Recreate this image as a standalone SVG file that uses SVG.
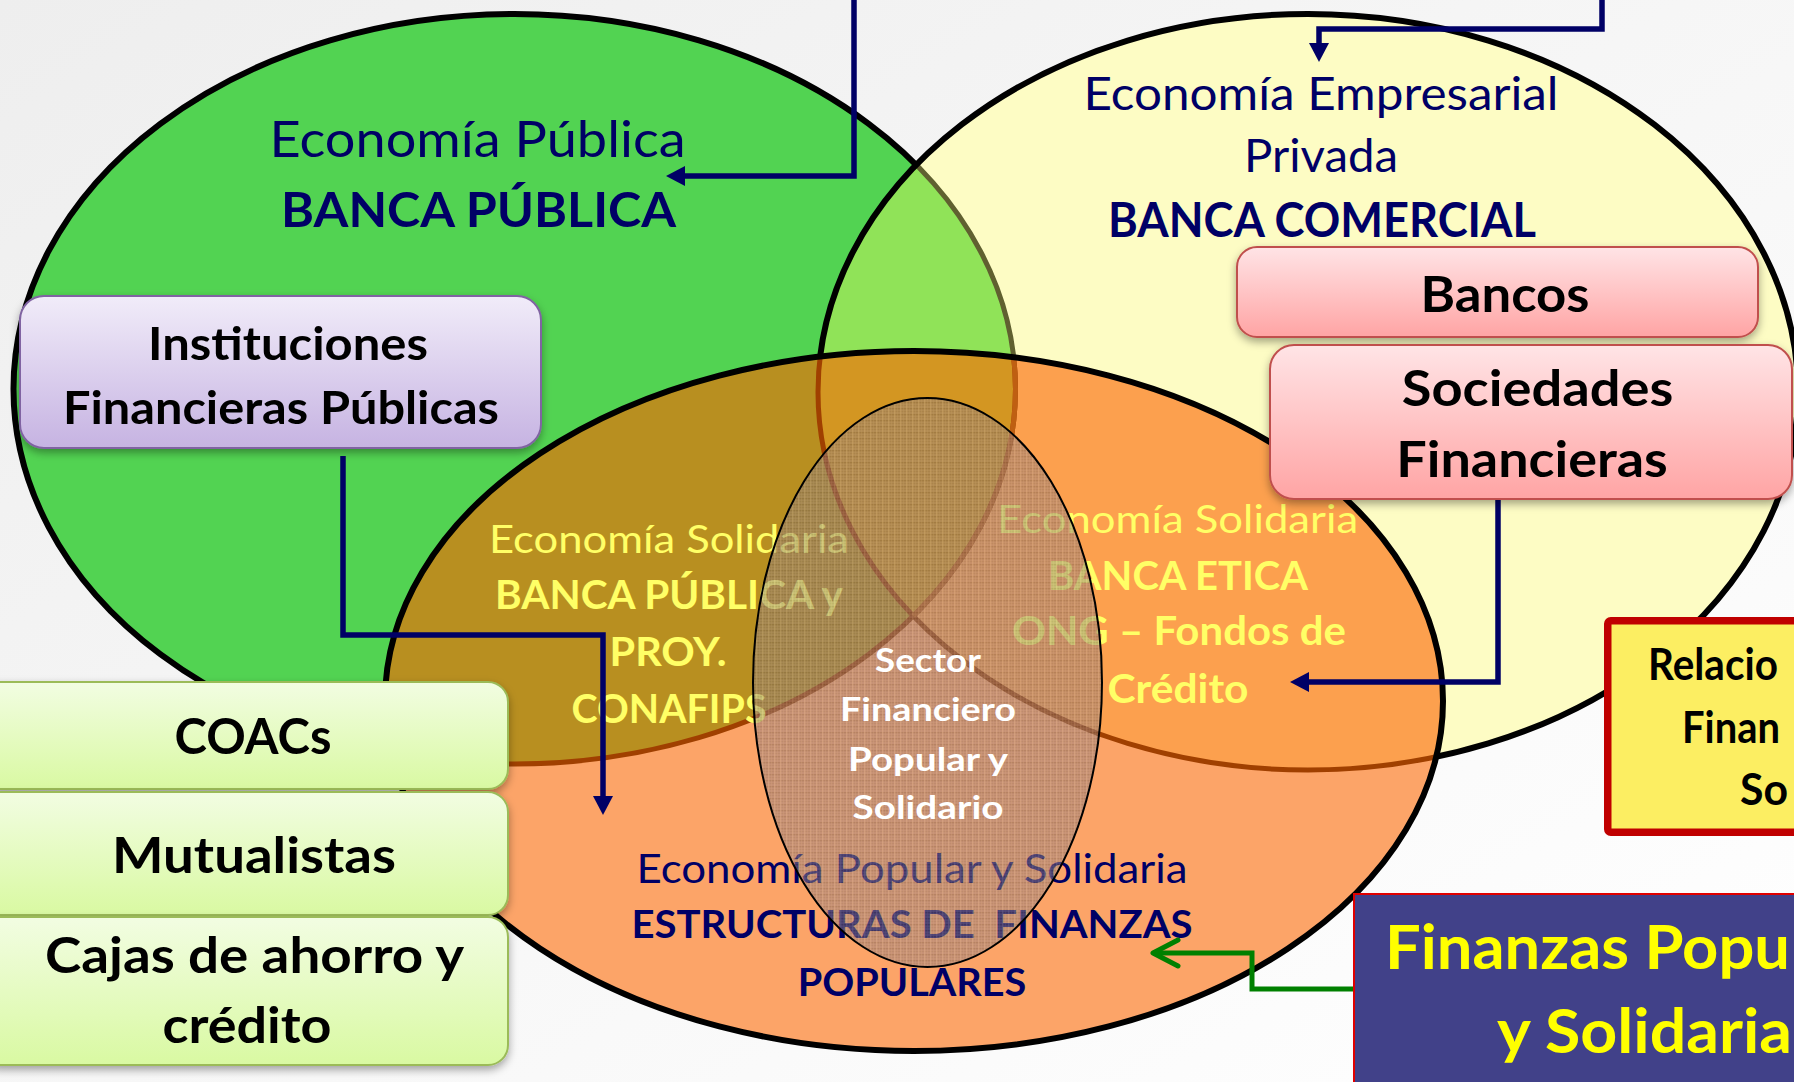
<svg xmlns="http://www.w3.org/2000/svg" width="1794" height="1082" viewBox="0 0 1794 1082">
<defs>
<style>
text{font-family:Lato,"Open Sans","Liberation Sans",sans-serif;text-anchor:middle}
.b{font-weight:700}
.navy{fill:#000066}
.yl{fill:#ffff66}
.blk{fill:#000}
.wh{fill:#fff}
.st{text-anchor:start}
.box{stroke-width:2}
.conn{fill:none;stroke:#000066;stroke-width:5.5;marker-end:url(#mNavy)}
</style>
<linearGradient id="bg" x1="0" y1="0" x2="1" y2="1"><stop offset="0" stop-color="#eeeeee"/><stop offset="1" stop-color="#ffffff"/></linearGradient>
<linearGradient id="gPurple" x1="0" y1="0" x2="0" y2="1"><stop offset="0" stop-color="#f1ecf9"/><stop offset="1" stop-color="#c6b3e2"/></linearGradient>
<linearGradient id="gPink" x1="0" y1="0" x2="0" y2="1"><stop offset="0" stop-color="#ffe4e6"/><stop offset="1" stop-color="#ffa4a4"/></linearGradient>
<linearGradient id="gLime" x1="0" y1="0" x2="0" y2="1"><stop offset="0" stop-color="#f2fde2"/><stop offset="1" stop-color="#d9f9a2"/></linearGradient>
<ellipse id="eG" cx="514.5" cy="389" rx="501" ry="375"/>
<ellipse id="eY" cx="1308" cy="392" rx="490" ry="378"/>
<ellipse id="eO" cx="914" cy="701" rx="529" ry="350"/>
<clipPath id="cG"><use href="#eG"/></clipPath>
<clipPath id="cY"><use href="#eY"/></clipPath>
<clipPath id="cO"><use href="#eO"/></clipPath>
<pattern id="canvas" width="6" height="6" patternUnits="userSpaceOnUse">
<rect width="6" height="6" fill="#948080"/>
<rect width="6" height="1.4" fill="#5a483e" opacity="0.5"/>
<rect y="3" width="6" height="1" fill="#6a5a50" opacity="0.3"/>
<rect width="1.4" height="6" fill="#c4b0a2" opacity="0.55"/>
<rect x="3" width="1" height="6" fill="#b09c8e" opacity="0.35"/>
</pattern>
<filter id="sh" x="-10%" y="-10%" width="120%" height="140%"><feDropShadow dx="0" dy="4" stdDeviation="4" flood-color="#000" flood-opacity="0.35"/></filter>
<marker id="mNavy" markerUnits="userSpaceOnUse" markerWidth="40" markerHeight="40" refX="0" refY="0" orient="auto" overflow="visible"><path d="M-11,-10 L8,0 L-11,10 Z" fill="#000066"/></marker>
<marker id="mGreen" markerUnits="userSpaceOnUse" markerWidth="40" markerHeight="40" refX="0" refY="0" orient="auto" overflow="visible"><path d="M-25,-13 L0,0 L-25,13" fill="none" stroke="#008000" stroke-width="5" stroke-linecap="round" stroke-linejoin="round"/></marker>
</defs>

<rect width="1794" height="1082" fill="url(#bg)"/>

<g id="venn">
<use href="#eG" fill="#52d352" stroke="#000" stroke-width="6"/>
<use href="#eY" fill="#fdfcc4"/>
<g clip-path="url(#cG)"><use href="#eY" fill="#90e358"/></g>
<g clip-path="url(#cY)"><use href="#eG" fill="none" stroke="#606030" stroke-width="5"/></g>
<use href="#eY" fill="none" stroke="#000" stroke-width="6"/>
<use href="#eO" fill="#fca468"/>
<g clip-path="url(#cO)"><use href="#eY" fill="#fca04e"/></g>
<g clip-path="url(#cO)"><use href="#eG" fill="#b88f20"/></g>
<g clip-path="url(#cO)"><g clip-path="url(#cY)"><use href="#eG" fill="#d39622"/></g></g>
<g clip-path="url(#cO)"><use href="#eG" fill="none" stroke="#a04000" stroke-width="5"/><use href="#eY" fill="none" stroke="#a04000" stroke-width="5"/></g>
<g clip-path="url(#cO)"><g clip-path="url(#cY)"><use href="#eG" fill="none" stroke="#bf5f12" stroke-width="5"/></g></g>
<use href="#eO" fill="none" stroke="#000" stroke-width="6"/>
</g>

<g id="economia-publica">
<text class="navy" x="477.6" y="156.7" font-size="50" textLength="416" lengthAdjust="spacingAndGlyphs">Economía Pública</text>
<text class="navy b" x="478.6" y="227" font-size="48" textLength="395" lengthAdjust="spacingAndGlyphs">BANCA PÚBLICA</text>
</g>

<g id="economia-empresarial">
<text class="navy" x="1321" y="110" font-size="45.6" textLength="475" lengthAdjust="spacingAndGlyphs">Economía Empresarial</text>
<text class="navy" x="1321" y="172" font-size="45.6" textLength="154" lengthAdjust="spacingAndGlyphs">Privada</text>
<text class="navy b" x="1322" y="237" font-size="47" textLength="428" lengthAdjust="spacingAndGlyphs">BANCA COMERCIAL</text>
</g>

<g id="solidaria-publica">
<text class="yl" x="669" y="552.6" font-size="38" textLength="360" lengthAdjust="spacingAndGlyphs">Economía Solidaria</text>
<text class="yl b" x="669" y="609" font-size="39.5" textLength="348" lengthAdjust="spacingAndGlyphs">BANCA PÚBLICA y</text>
<text class="yl b" x="668" y="666" font-size="39.5" textLength="117" lengthAdjust="spacingAndGlyphs">PROY.</text>
<text class="yl b" x="669" y="722.5" font-size="39.5" textLength="195" lengthAdjust="spacingAndGlyphs">CONAFIPS</text>
</g>

<g id="solidaria-etica">
<text class="yl" x="1177.6" y="533" font-size="38" textLength="361" lengthAdjust="spacingAndGlyphs">Economía Solidaria</text>
<text class="yl b" x="1178" y="590" font-size="39.5" textLength="260" lengthAdjust="spacingAndGlyphs">BANCA ETICA</text>
<text class="yl b" x="1179" y="645.4" font-size="39.5" textLength="334" lengthAdjust="spacingAndGlyphs">ONG – Fondos de</text>
<text class="yl b" x="1178" y="702.5" font-size="39.5" textLength="141" lengthAdjust="spacingAndGlyphs">Crédito</text>
</g>

<g id="economia-popular">
<text class="navy" x="912" y="883" font-size="41" textLength="551" lengthAdjust="spacingAndGlyphs">Economía Popular y Solidaria</text>
<text class="navy b" x="912" y="938" font-size="39" textLength="561" lengthAdjust="spacingAndGlyphs" xml:space="preserve">ESTRUCTURAS DE  FINANZAS</text>
<text class="navy b" x="912" y="995.6" font-size="39" textLength="228.5" lengthAdjust="spacingAndGlyphs">POPULARES</text>
</g>

<g id="sector-financiero">
<ellipse cx="927.5" cy="682.5" rx="174.5" ry="284.5" fill="url(#canvas)" fill-opacity="0.52" stroke="#000" stroke-width="2"/>
<text class="wh b" x="928" y="672" font-size="32.5" textLength="106" lengthAdjust="spacingAndGlyphs">Sector</text>
<text class="wh b" x="928" y="721" font-size="32.5" textLength="176" lengthAdjust="spacingAndGlyphs">Financiero</text>
<text class="wh b" x="928" y="771" font-size="32.5" textLength="160" lengthAdjust="spacingAndGlyphs">Popular y</text>
<text class="wh b" x="928" y="819" font-size="32.5" textLength="151" lengthAdjust="spacingAndGlyphs">Solidario</text>
</g>

<g id="connectors">
<path class="conn" d="M854,0 V176 H674"/>
<path class="conn" d="M1602,0 V29 H1319 V54"/>
<path class="conn" d="M343,456 V635 H603 V807"/>
<path class="conn" d="M1498,500 V682 H1298"/>
<path d="M1353,989 H1252 V953 H1153" fill="none" stroke="#008000" stroke-width="5" marker-end="url(#mGreen)"/>
</g>

<g id="instituciones" filter="url(#sh)">
<rect class="box" x="20" y="296" width="521" height="152" rx="24" fill="url(#gPurple)" stroke="#8064a2"/>
<text class="blk b" x="288" y="360" font-size="45.6" textLength="280" lengthAdjust="spacingAndGlyphs">Instituciones</text>
<text class="blk b" x="281" y="424" font-size="45.6" textLength="436" lengthAdjust="spacingAndGlyphs">Financieras Públicas</text>
</g>

<g id="bancos" filter="url(#sh)">
<rect class="box" x="1237" y="247" width="521" height="90" rx="20" fill="url(#gPink)" stroke="#c0504d"/>
<text class="blk b" x="1505" y="311.6" font-size="50.5" textLength="169" lengthAdjust="spacingAndGlyphs">Bancos</text>
</g>

<g id="sociedades" filter="url(#sh)">
<rect class="box" x="1270" y="345" width="522" height="154" rx="24" fill="url(#gPink)" stroke="#c0504d"/>
<text class="blk b" x="1537.5" y="406" font-size="50.5" textLength="271.5" lengthAdjust="spacingAndGlyphs">Sociedades</text>
<text class="blk b" x="1532" y="477" font-size="50.5" textLength="271.5" lengthAdjust="spacingAndGlyphs">Financieras</text>
</g>

<g id="coacs" filter="url(#sh)">
<rect class="box" x="-20" y="682" width="528" height="107" rx="20" fill="url(#gLime)" stroke="#9bbb59"/>
<text class="blk b" x="253" y="754" font-size="50.6" textLength="157" lengthAdjust="spacingAndGlyphs">COACs</text>
</g>

<g id="mutualistas" filter="url(#sh)">
<rect class="box" x="-20" y="792" width="528" height="123" rx="20" fill="url(#gLime)" stroke="#9bbb59"/>
<text class="blk b" x="254" y="872.5" font-size="50.6" textLength="284" lengthAdjust="spacingAndGlyphs">Mutualistas</text>
</g>

<g id="cajas" filter="url(#sh)">
<rect class="box" x="-20" y="917" width="528" height="148" rx="20" fill="url(#gLime)" stroke="#9bbb59"/>
<text class="blk b" x="254.5" y="973" font-size="50.6" textLength="419" lengthAdjust="spacingAndGlyphs">Cajas de ahorro y</text>
<text class="blk b" x="247" y="1043" font-size="50.6" textLength="169" lengthAdjust="spacingAndGlyphs">crédito</text>
</g>

<g id="relaciones">
<rect x="1607.75" y="620.75" width="260" height="211.5" rx="3" fill="#fcee62" stroke="#c00000" stroke-width="7.5"/>
<text class="blk b st" x="1648" y="680" font-size="43" textLength="130" lengthAdjust="spacingAndGlyphs">Relacio</text>
<text class="blk b st" x="1682" y="743" font-size="43" textLength="98" lengthAdjust="spacingAndGlyphs">Finan</text>
<text class="blk b st" x="1740" y="805" font-size="43" textLength="48" lengthAdjust="spacingAndGlyphs">So</text>
</g>

<g id="finanzas">
<rect x="1354" y="894" width="500" height="250" fill="#414189" stroke="#e00000" stroke-width="2"/>
<text class="b st" fill="#ffff00" x="1385" y="969" font-size="62" textLength="405" lengthAdjust="spacingAndGlyphs">Finanzas Popu</text>
<text class="b st" fill="#ffff00" x="1497" y="1053" font-size="62" textLength="295" lengthAdjust="spacingAndGlyphs">y Solidaria</text>
</g>
</svg>
